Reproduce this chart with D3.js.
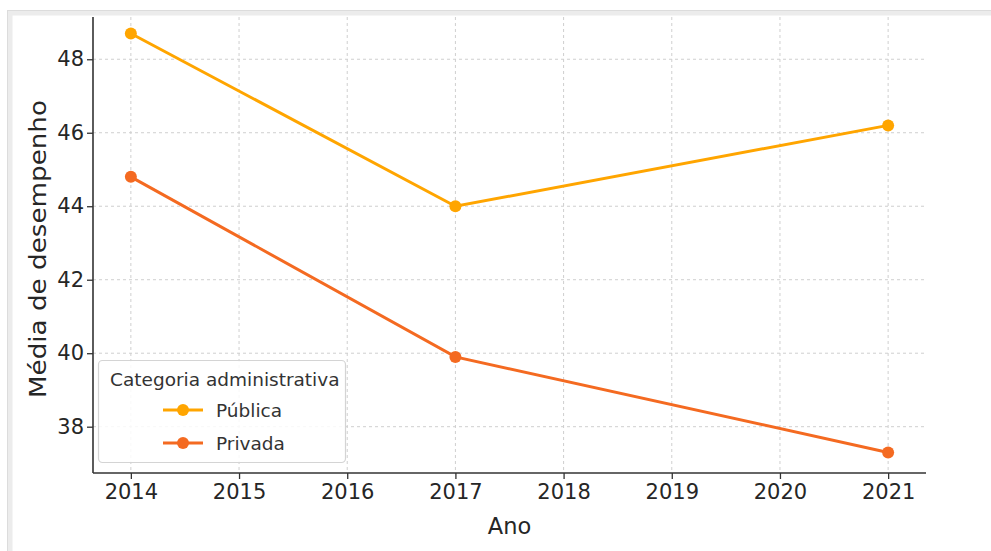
<!DOCTYPE html>
<html>
<head>
<meta charset="utf-8">
<script src="https://cdn.jsdelivr.net/npm/d3@7"></script>
<style>
  body { margin: 0; background: #fff; }
  svg { display: block; font-family: "DejaVu Sans", sans-serif; }
</style>
</head>
<body>
<svg id="vis1"></svg>
<script>
const WIDTH = 991;
const HEIGHT = 551;
const margin = {left: 93, right: 65, top: 17, bottom: 78};

// data
const years = [2014, 2017, 2021];
const publica = [48.7, 44.0, 46.2];
const privada = [44.8, 39.9, 37.3];
const seriesNames = ["Pública", "Privada"];
const seriesColors = ["#ffa500", "#f46a21"];
const xTicks = [2014, 2015, 2016, 2017, 2018, 2019, 2020, 2021];
const yTicks = [38, 40, 42, 44, 46, 48];

const svg = d3.select("#vis1").attr("width", WIDTH).attr("height", HEIGHT);

// outer frame of the screenshot
svg.append("rect")
  .attr("x", 10).attr("y", 13)
  .attr("width", 1100).attr("height", 700)
  .attr("fill", "#fff")
  .attr("stroke", "#ececec").attr("stroke-width", 5);
svg.append("rect")
  .attr("x", 7.5).attr("y", 10.5)
  .attr("width", 1100).attr("height", 700)
  .attr("fill", "none")
  .attr("stroke", "#dcdcdc").attr("stroke-width", 1);

const x = d3.scaleLinear()
  .domain([2013.65, 2021.35])
  .range([margin.left, WIDTH - margin.right]);
const y = d3.scaleLinear()
  .domain([36.74, 49.15])
  .range([HEIGHT - margin.bottom, margin.top]);

const plotTop = margin.top, plotBottom = HEIGHT - margin.bottom;

// grid
const grid = svg.append("g");
grid.selectAll(".gx").data(xTicks).enter().append("line")
  .attr("x1", d => x(d)).attr("x2", d => x(d))
  .attr("y1", plotTop).attr("y2", plotBottom)
  .attr("stroke", "#cfcfcf").attr("stroke-width", 1).attr("stroke-dasharray", "3,3");
grid.selectAll(".gy").data(yTicks).enter().append("line")
  .attr("x1", margin.left).attr("x2", WIDTH - margin.right)
  .attr("y1", d => y(d)).attr("y2", d => y(d))
  .attr("stroke", "#cfcfcf").attr("stroke-width", 1).attr("stroke-dasharray", "3,3");

// axes
const xAxis = svg.append("g")
  .attr("transform", "translate(0," + plotBottom + ")")
  .call(d3.axisBottom(x).tickValues(xTicks).tickFormat(d3.format("d")).tickSizeOuter(0).tickSize(6).tickPadding(5));
const yAxis = svg.append("g")
  .attr("transform", "translate(" + margin.left + ",0)")
  .call(d3.axisLeft(y).tickValues(yTicks).tickSizeOuter(0).tickSize(6).tickPadding(3));

[xAxis, yAxis].forEach(a => {
  a.select(".domain").attr("stroke", "#333").attr("stroke-width", 1.6);
  a.selectAll(".tick line").attr("stroke", "#333").attr("stroke-width", 1.3);
  a.selectAll(".tick text").attr("fill", "#262626").attr("font-size", 21)
    .attr("font-family", "DejaVu Sans");
});
// stretch the y axis down so the spine meets the x axis
yAxis.select(".domain").attr("d", "M0," + plotTop + "V" + plotBottom);
xAxis.select(".domain").attr("d", "M" + margin.left + ",0H" + (WIDTH - margin.right));

svg.append("text")
  .attr("x", (x(2014) + x(2021)) / 2 + 0).attr("y", 534)
  .attr("text-anchor", "middle")
  .attr("font-size", 22.5).attr("fill", "#262626")
  .text("Ano");

svg.append("text")
  .attr("transform", "translate(46," + ((plotTop + plotBottom) / 2 + 4) + ") rotate(-90)")
  .attr("text-anchor", "middle")
  .attr("font-size", 22.5).attr("fill", "#262626")
  .attr("textLength", 298).attr("lengthAdjust", "spacingAndGlyphs")
  .text("Média de desempenho");

// lines
const allSeries = [publica, privada];
const line = d3.line().x((d, i) => x(years[i])).y(d => y(d));

allSeries.forEach((s, k) => {
  svg.append("path")
    .datum(s)
    .attr("d", line)
    .attr("fill", "none")
    .attr("stroke", seriesColors[k])
    .attr("stroke-width", 3);
  svg.selectAll(".pt" + k).data(s).enter().append("circle")
    .attr("cx", (d, i) => x(years[i]))
    .attr("cy", d => y(d))
    .attr("r", 6)
    .attr("fill", seriesColors[k]);
});

// legend
const lg = svg.append("g");
lg.append("rect")
  .attr("x", 98.5).attr("y", 360.5)
  .attr("width", 247).attr("height", 102).attr("rx", 4)
  .attr("fill", "#fff").attr("fill-opacity", 0.85)
  .attr("stroke", "#d4d4d4").attr("stroke-width", 1.2);
lg.append("text")
  .attr("x", 110).attr("y", 386)
  .attr("font-size", 18.5).attr("fill", "#333")
  .text("Categoria administrativa");
seriesNames.forEach((name, k) => {
  const ly = 410 + k * 33;
  lg.append("line")
    .attr("x1", 163).attr("x2", 203).attr("y1", ly).attr("y2", ly)
    .attr("stroke", seriesColors[k]).attr("stroke-width", 3);
  lg.append("circle")
    .attr("cx", 183).attr("cy", ly).attr("r", 6)
    .attr("fill", seriesColors[k]);
  lg.append("text")
    .attr("x", 216).attr("y", ly + 7)
    .attr("font-size", 18.5).attr("fill", "#333")
    .text(name);
});
</script>
</body>
</html>
